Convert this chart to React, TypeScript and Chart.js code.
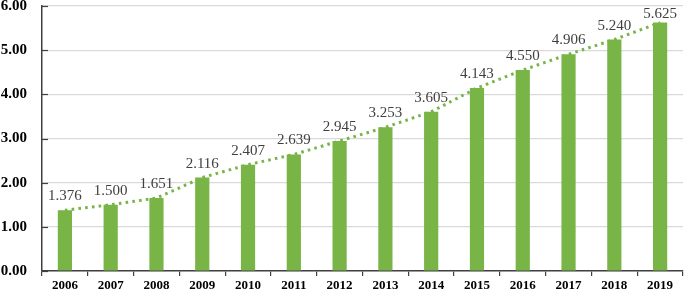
import React, { useEffect, useRef } from "react";
import { Chart, registerables } from "chart.js";

Chart.register(...registerables);

const years = ["2006","2007","2008","2009","2010","2011","2012","2013","2014","2015","2016","2017","2018","2019"];
const values = [1.376, 1.5, 1.651, 2.116, 2.407, 2.639, 2.945, 3.253, 3.605, 4.143, 4.55, 4.906, 5.24, 5.625];
const valueLabels = ["1.376","1.500","1.651","2.116","2.407","2.639","2.945","3.253","3.605","4.143","4.550","4.906","5.240","5.625"];

const GREEN = "#78b446";
const SERIF = "'Liberation Serif', 'Times New Roman', serif";

const innerTicks = {
  id: "innerTicks",
  afterDraw(chart: any) {
    const ctx = chart.ctx;
    const y = chart.scales.y;
    const left = chart.chartArea.left;
    ctx.save();
    ctx.strokeStyle = "#404040";
    ctx.lineWidth = 1.2;
    y.ticks.forEach((t: any, i: number) => {
      const py = Math.round(y.getPixelForTick(i)) + 0.5;
      ctx.beginPath();
      ctx.moveTo(left, py);
      ctx.lineTo(left + 6, py);
      ctx.stroke();
    });
    ctx.restore();
  },
};

const dataLabels = {
  id: "dataLabels",
  afterDatasetsDraw(chart: any) {
    const ctx = chart.ctx;
    const meta = chart.getDatasetMeta(0);
    ctx.save();
    ctx.font = `15px ${SERIF}`;
    ctx.fillStyle = "#404040";
    ctx.textAlign = "center";
    ctx.textBaseline = "alphabetic";
    meta.data.forEach((bar: any, i: number) => {
      const base = Math.max(bar.y - 10, chart.chartArea.top + 12);
      ctx.fillText(valueLabels[i], bar.x, base);
    });
    ctx.restore();
  },
};

export default function App() {
  const ref = useRef<HTMLCanvasElement | null>(null);
  useEffect(() => {
    if (!ref.current) return;
    const chart = new Chart(ref.current, {
      type: "bar",
      data: {
        labels: years,
        datasets: [
          {
            type: "bar",
            data: values,
            backgroundColor: GREEN,
            barPercentage: 0.62,
            categoryPercentage: 0.5,
            order: 1,
          } as any,
          {
            type: "line",
            data: values,
            borderColor: GREEN,
            borderWidth: 3,
            borderDash: [2.6, 4.2],
            pointRadius: 0,
            fill: false,
            tension: 0,
            order: 2,
          } as any,
        ],
      },
      options: {
        animation: false,
        responsive: true,
        maintainAspectRatio: false,
        layout: { padding: { top: 6, right: 2, left: 0, bottom: 0 } },
        plugins: { legend: { display: false }, tooltip: { enabled: false } },
        scales: {
          x: {
            offset: true,
            grid: {
              offset: true,
              drawOnChartArea: false,
              drawTicks: true,
              tickLength: 5,
              color: "#404040",
              lineWidth: 1.2,
            },
            border: { color: "#404040", width: 1.5 },
            ticks: {
              font: { family: SERIF, size: 13, weight: "bold" },
              color: "#000",
              padding: 2,
              maxRotation: 0,
              autoSkip: false,
            },
            afterFit(scale: any) {
              scale.height = 18;
              scale.paddingLeft = 0;
              scale.paddingRight = 0;
            },
          },
          y: {
            min: 0,
            max: 6,
            ticks: {
              stepSize: 1,
              callback: (v: any) => Number(v).toFixed(2),
              font: { family: SERIF, size: 15, weight: "bold" },
              color: "#000",
              padding: 15,
            },
            grid: { color: "#d9d9d9", lineWidth: 1.2, drawTicks: false },
            border: { color: "#404040", width: 1.5 },
            afterFit(scale: any) {
              scale.width = 42;
              scale.paddingTop = 0;
              scale.paddingBottom = 0;
            },
          },
        },
      },
      plugins: [innerTicks, dataLabels],
    });
    return () => chart.destroy();
  }, []);
  return (
    <div style={{ position: "fixed", left: 0, top: 0, width: 685, height: 289, background: "#fff" }}>
      <canvas ref={ref} />
    </div>
  );
}
